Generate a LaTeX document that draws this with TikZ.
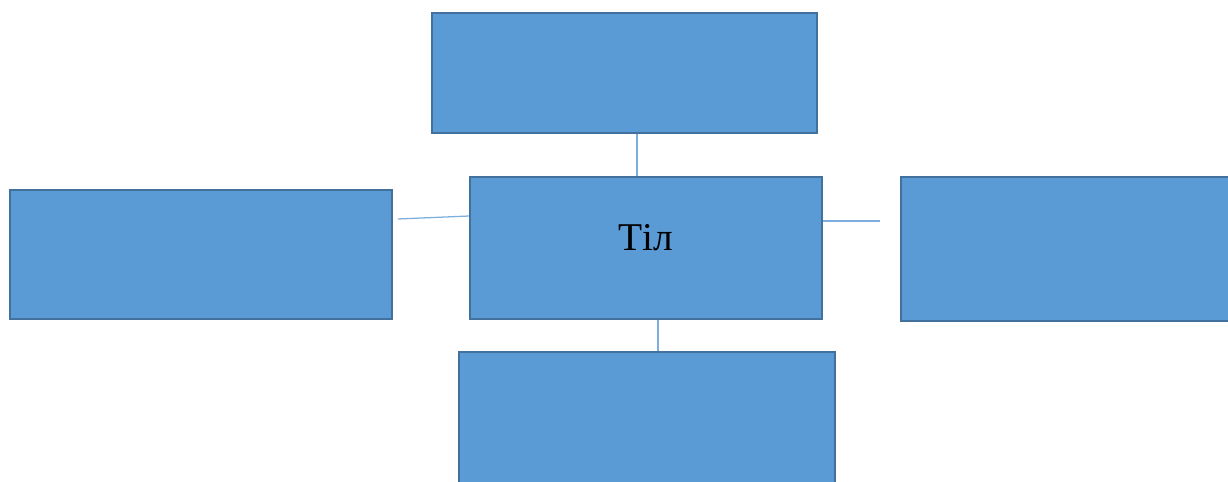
\documentclass[tikz,border=0pt]{standalone}
\usepackage{fontspec}
\setmainfont{Liberation Serif}
\definecolor{boxfill}{HTML}{5B9BD5}
\definecolor{boxline}{HTML}{41719C}
\tikzset{
  box/.style={draw=boxline, fill=boxfill, line width=1.4pt, inner sep=0pt},
  link/.style={draw=boxfill!80!white, line width=0.9pt}
}
\begin{document}
\begin{tikzpicture}
      \useasboundingbox (0,0) rectangle (30.7,12.025);
      \clip (0,0) rectangle (30.7,12.025);
      \node[box, minimum width=8.8cm, minimum height=3.55cm, text height=0.65cm, text depth=0.55cm,
            font=\fontsize{28}{34}\selectfont] (centre) at (16.15,5.825) {Тіл};
      \node[box, minimum width=9.625cm, minimum height=3cm] (upper) at (15.6125,10.2) {};
      \node[box, minimum width=9.55cm, minimum height=3.225cm] (left) at (5.025,5.6625) {};
      \node[box, minimum width=8.5cm, minimum height=3.6cm] (right) at (26.775,5.8) {};
      \node[box, minimum width=9.4cm, minimum height=3.45cm] (lower) at (16.175,1.5) {};
      \coordinate (lend) at (9.95,6.55);
      \coordinate (rend) at (22.0,6.5);
      \draw[link] (upper.south -| 15.925,0) -- (centre.north -| 15.925,0);
      \draw[link] (lend) -- (centre.west |- 0,6.625);
      \draw[link] (centre.east |- rend) -- (rend);
      \draw[link] (centre.south -| 16.45,0) -- (lower.north -| 16.45,0);
    \end{tikzpicture}
\end{document}
